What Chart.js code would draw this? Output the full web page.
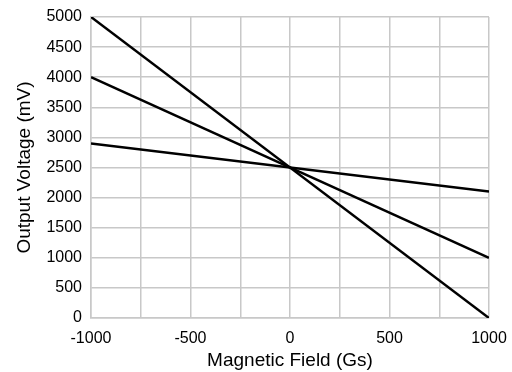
<!DOCTYPE html>
<html>
<head>
<meta charset="utf-8">
<script src="https://cdn.jsdelivr.net/npm/chart.js@4/dist/chart.umd.min.js"></script>
<style>
  html, body { margin: 0; padding: 0; background: #fff; }
  #wrap { width: 512px; height: 372px; }
</style>
</head>
<body>
<div id="wrap"><canvas id="chart"></canvas></div>
<script>
// Données
const fieldGs = [-1000, 1000];
const steepLine = [5000, 0];
const midLine = [4000, 1000];
const flatLine = [2900, 2100];
const xTickLabels = [-1000, -500, 0, 500, 1000];

const toPoints = ys => fieldGs.map((x, i) => ({ x: x, y: ys[i] }));
const lineStyle = { borderColor: '#000', borderWidth: 2.5, pointRadius: 0, fill: false, tension: 0 };

const font = 'Liberation Sans, Arial, sans-serif';

new Chart(document.getElementById('chart').getContext('2d'), {
    type: 'scatter',
    data: {
        datasets: [
            Object.assign({ data: toPoints(steepLine), showLine: true }, lineStyle),
            Object.assign({ data: toPoints(midLine), showLine: true }, lineStyle),
            Object.assign({ data: toPoints(flatLine), showLine: true }, lineStyle)
        ]
    },
    options: {
        responsive: true,
        maintainAspectRatio: false,
        animation: false,
        layout: { padding: { top: 17, right: 23, left: 0, bottom: 0 } },
        plugins: { legend: { display: false }, tooltip: { enabled: false } },
        scales: {
            x: {
                type: 'linear',
                min: -1000,
                max: 1000,
                ticks: {
                    stepSize: 250,
                    color: '#000',
                    font: { family: font, size: 16 },
                    padding: 11,
                    maxRotation: 0,
                    callback: v => xTickLabels.includes(v) ? String(v) : ''
                },
                grid: { color: '#c8c8c8', lineWidth: 1.5, drawTicks: false },
                border: { color: '#c8c8c8', width: 1.5 },
                title: { display: true, text: 'Magnetic Field (Gs)', color: '#000', font: { family: font, size: 19 }, padding: 0 },
                afterFit: axis => {
                    axis.height = 54;
                    axis.paddingLeft = 0;
                    axis.paddingRight = 0;
                }
            },
            y: {
                min: 0,
                max: 5000,
                ticks: {
                    stepSize: 500,
                    color: '#000',
                    font: { family: font, size: 16 },
                    padding: 9,
                    callback: v => String(v)
                },
                grid: { color: '#c8c8c8', lineWidth: 1.5, drawTicks: false },
                border: { color: '#c8c8c8', width: 1.5 },
                title: { display: true, text: 'Output Voltage (mV)', color: '#000', font: { family: font, size: 19 }, padding: { top: 13, bottom: 0 } },
                afterFit: axis => {
                    axis.width = 91;
                    axis.paddingTop = 0;
                    axis.paddingBottom = 0;
                }
            }
        }
    }
});
</script>
</body>
</html>
